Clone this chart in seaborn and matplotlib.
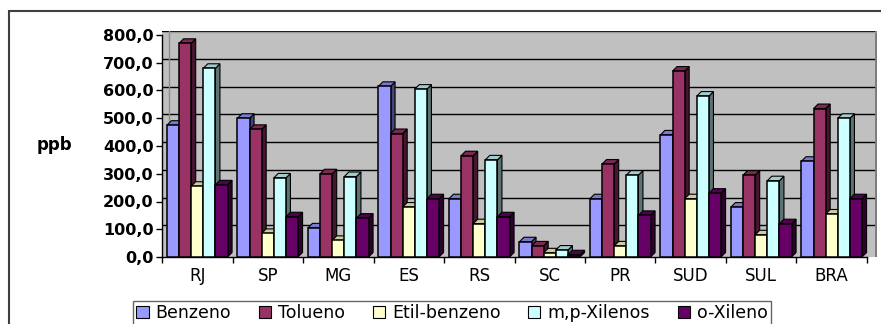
import numpy as np
import pandas as pd
import matplotlib
matplotlib.use("Agg")
import matplotlib.pyplot as plt
import matplotlib.colors as mcolors
from matplotlib.patches import Polygon, Rectangle
import seaborn as sns

regioes = ["RJ", "SP", "MG", "ES", "RS", "SC", "PR", "SUD", "SUL", "BRA"]
compostos = ["Benzeno", "Tolueno", "Etil-benzeno", "m,p-Xilenos", "o-Xileno"]
benzeno = [475, 500, 105, 615, 210, 55, 210, 440, 180, 345]
tolueno = [770, 460, 300, 445, 365, 40, 335, 670, 295, 535]
etil_benzeno = [255, 85, 60, 180, 120, 15, 40, 210, 80, 155]
mp_xilenos = [680, 285, 290, 605, 350, 25, 295, 580, 275, 500]
o_xileno = [260, 145, 140, 210, 145, 8, 150, 230, 120, 210]
cores = ["#9999FF", "#993366", "#FFFFCC", "#CCFFFF", "#660066"]
yticks = [0, 100, 200, 300, 400, 500, 600, 700, 800]

series = [benzeno, tolueno, etil_benzeno, mp_xilenos, o_xileno]
df = pd.DataFrame({
    "regiao": np.repeat([regioes], len(compostos), axis=0).ravel(),
    "composto": np.repeat(compostos, len(regioes)),
    "ppb": np.concatenate(series),
})

sns.set_theme(style="white")
plt.rcParams["font.family"] = ["DejaVu Sans"]
plt.rcParams["text.color"] = "black"
plt.rcParams["axes.labelcolor"] = "black"
plt.rcParams["xtick.color"] = "black"
plt.rcParams["ytick.color"] = "black"

W, H = 881, 324
fig = plt.figure(figsize=(W / 100, H / 100), dpi=100)
fig.patch.set_facecolor("white")

# axes in pixel terms: x 162..877, y 31..257
x0, x1, ytop, ybot = 162, 877, 31, 257
ax = fig.add_axes([x0 / W, 1 - ybot / H, (x1 - x0) / W, (ybot - ytop) / H])
ax.set_facecolor("#C0C0C0")

cat_px = 70.5
ymax = 800 * (ybot - ytop) / (ybot - 35)
px_y = ymax / (ybot - ytop)

sns.barplot(data=df, x="regiao", y="ppb", hue="composto", order=regioes,
            hue_order=compostos, palette=cores, width=0.86, edgecolor="black",
            linewidth=1.1, saturation=1, ax=ax, legend=False, zorder=3)
xmax = -0.5 + (x1 - x0) / cat_px
ax.set_xlim(-0.5, xmax)
ax.set_ylim(0, ymax)

# back wall: gridlines, corner and right edge
for v in yticks[1:]:
    ax.axhline(v + 4 * px_y, color="black", lw=1.0, zorder=1)
ax.plot([-0.5 + 7 / cat_px] * 2, [4 * px_y, ymax], color="#8C8C8C", lw=1.0, zorder=1)
ax.plot([xmax - 1 / cat_px] * 2, [0, ymax], color="#7A7A7A", lw=2.0, zorder=1)
ax.plot([-0.5 + 7 / cat_px, xmax], [ymax - 0.5 * px_y] * 2, color="#9A9A9A", lw=1.0, zorder=1)

# 3D depth faces derived from each bar's geometry
dx = 4.5 / cat_px
dy = 4.5 * px_y
for cont, c in zip(ax.containers, cores):
    rgb = np.array(mcolors.to_rgb(c))
    side = rgb * 0.45
    top = np.clip(rgb * 0.8, 0, 1)
    for p in cont.patches:
        bx, by = p.get_x(), p.get_y()
        bw, bh = p.get_width(), p.get_height()
        r = bx + bw
        ax.add_patch(Polygon([(r, by), (r, bh), (r + dx, bh + dy), (r + dx, by + dy)],
                             closed=True, facecolor=side, edgecolor="black",
                             lw=0.8, zorder=2))
        ax.add_patch(Polygon([(bx, bh), (r, bh), (r + dx, bh + dy), (bx + dx, bh + dy)],
                             closed=True, facecolor=top, edgecolor="black",
                             lw=0.8, zorder=2))

for s in ["top", "right"]:
    ax.spines[s].set_visible(False)
for s in ["left", "bottom"]:
    ax.spines[s].set_color("black")
    ax.spines[s].set_linewidth(1.0)
ax.spines["left"].set_bounds(0, 800)
ax.spines["bottom"].set_bounds(-0.5, len(regioes) - 0.5)

ax.set_yticks(yticks)
ax.set_yticklabels([f"{v:.1f}".replace(".", ",") for v in yticks],
                   fontsize=11.5, fontweight="bold", color="black")
ax.tick_params(axis="y", direction="out", length=4, width=1, color="black",
               pad=2, left=True)
ax.set_xticks(range(len(regioes)))
ax.set_xticklabels(regioes, fontsize=12, color="black")
ax.set_xticks(np.arange(len(regioes) + 1) - 0.5, minor=True)
ax.tick_params(axis="x", which="major", length=0, pad=7)
ax.tick_params(axis="x", which="minor", direction="out", length=4, width=1,
               color="black", bottom=True)
ax.set_xlabel("")
ax.set_ylabel("ppb", fontsize=12, fontweight="bold", rotation=0,
              ha="center", va="center", color="black")
ax.yaxis.set_label_coords((54 - x0) / (x1 - x0), (ybot - 145) / (ybot - ytop))
ax.grid(False)

# outer chart frame
fig.patches.append(Rectangle((9 / W, -0.5), 2.0, 1 - 11 / H + 0.5,
                             transform=fig.transFigure, fill=False,
                             edgecolor="#404040", lw=1.5, zorder=0))

handles = [Rectangle((0, 0), 1, 1, facecolor=c, edgecolor="black", lw=0.8)
           for c in cores]
leg = fig.legend(handles, compostos, loc="upper center",
                 bbox_to_anchor=(452 / W, 1 - 301 / H), ncol=5, fontsize=12.5,
                 frameon=True, fancybox=False, handlelength=0.7,
                 handleheight=0.7, handletextpad=0.4, columnspacing=1.6,
                 borderpad=0.2, borderaxespad=0)
leg.get_frame().set_edgecolor("#404040")
leg.get_frame().set_linewidth(1.0)
for t in leg.get_texts():
    t.set_color("black")

fig.savefig("out.png", dpi=100)
